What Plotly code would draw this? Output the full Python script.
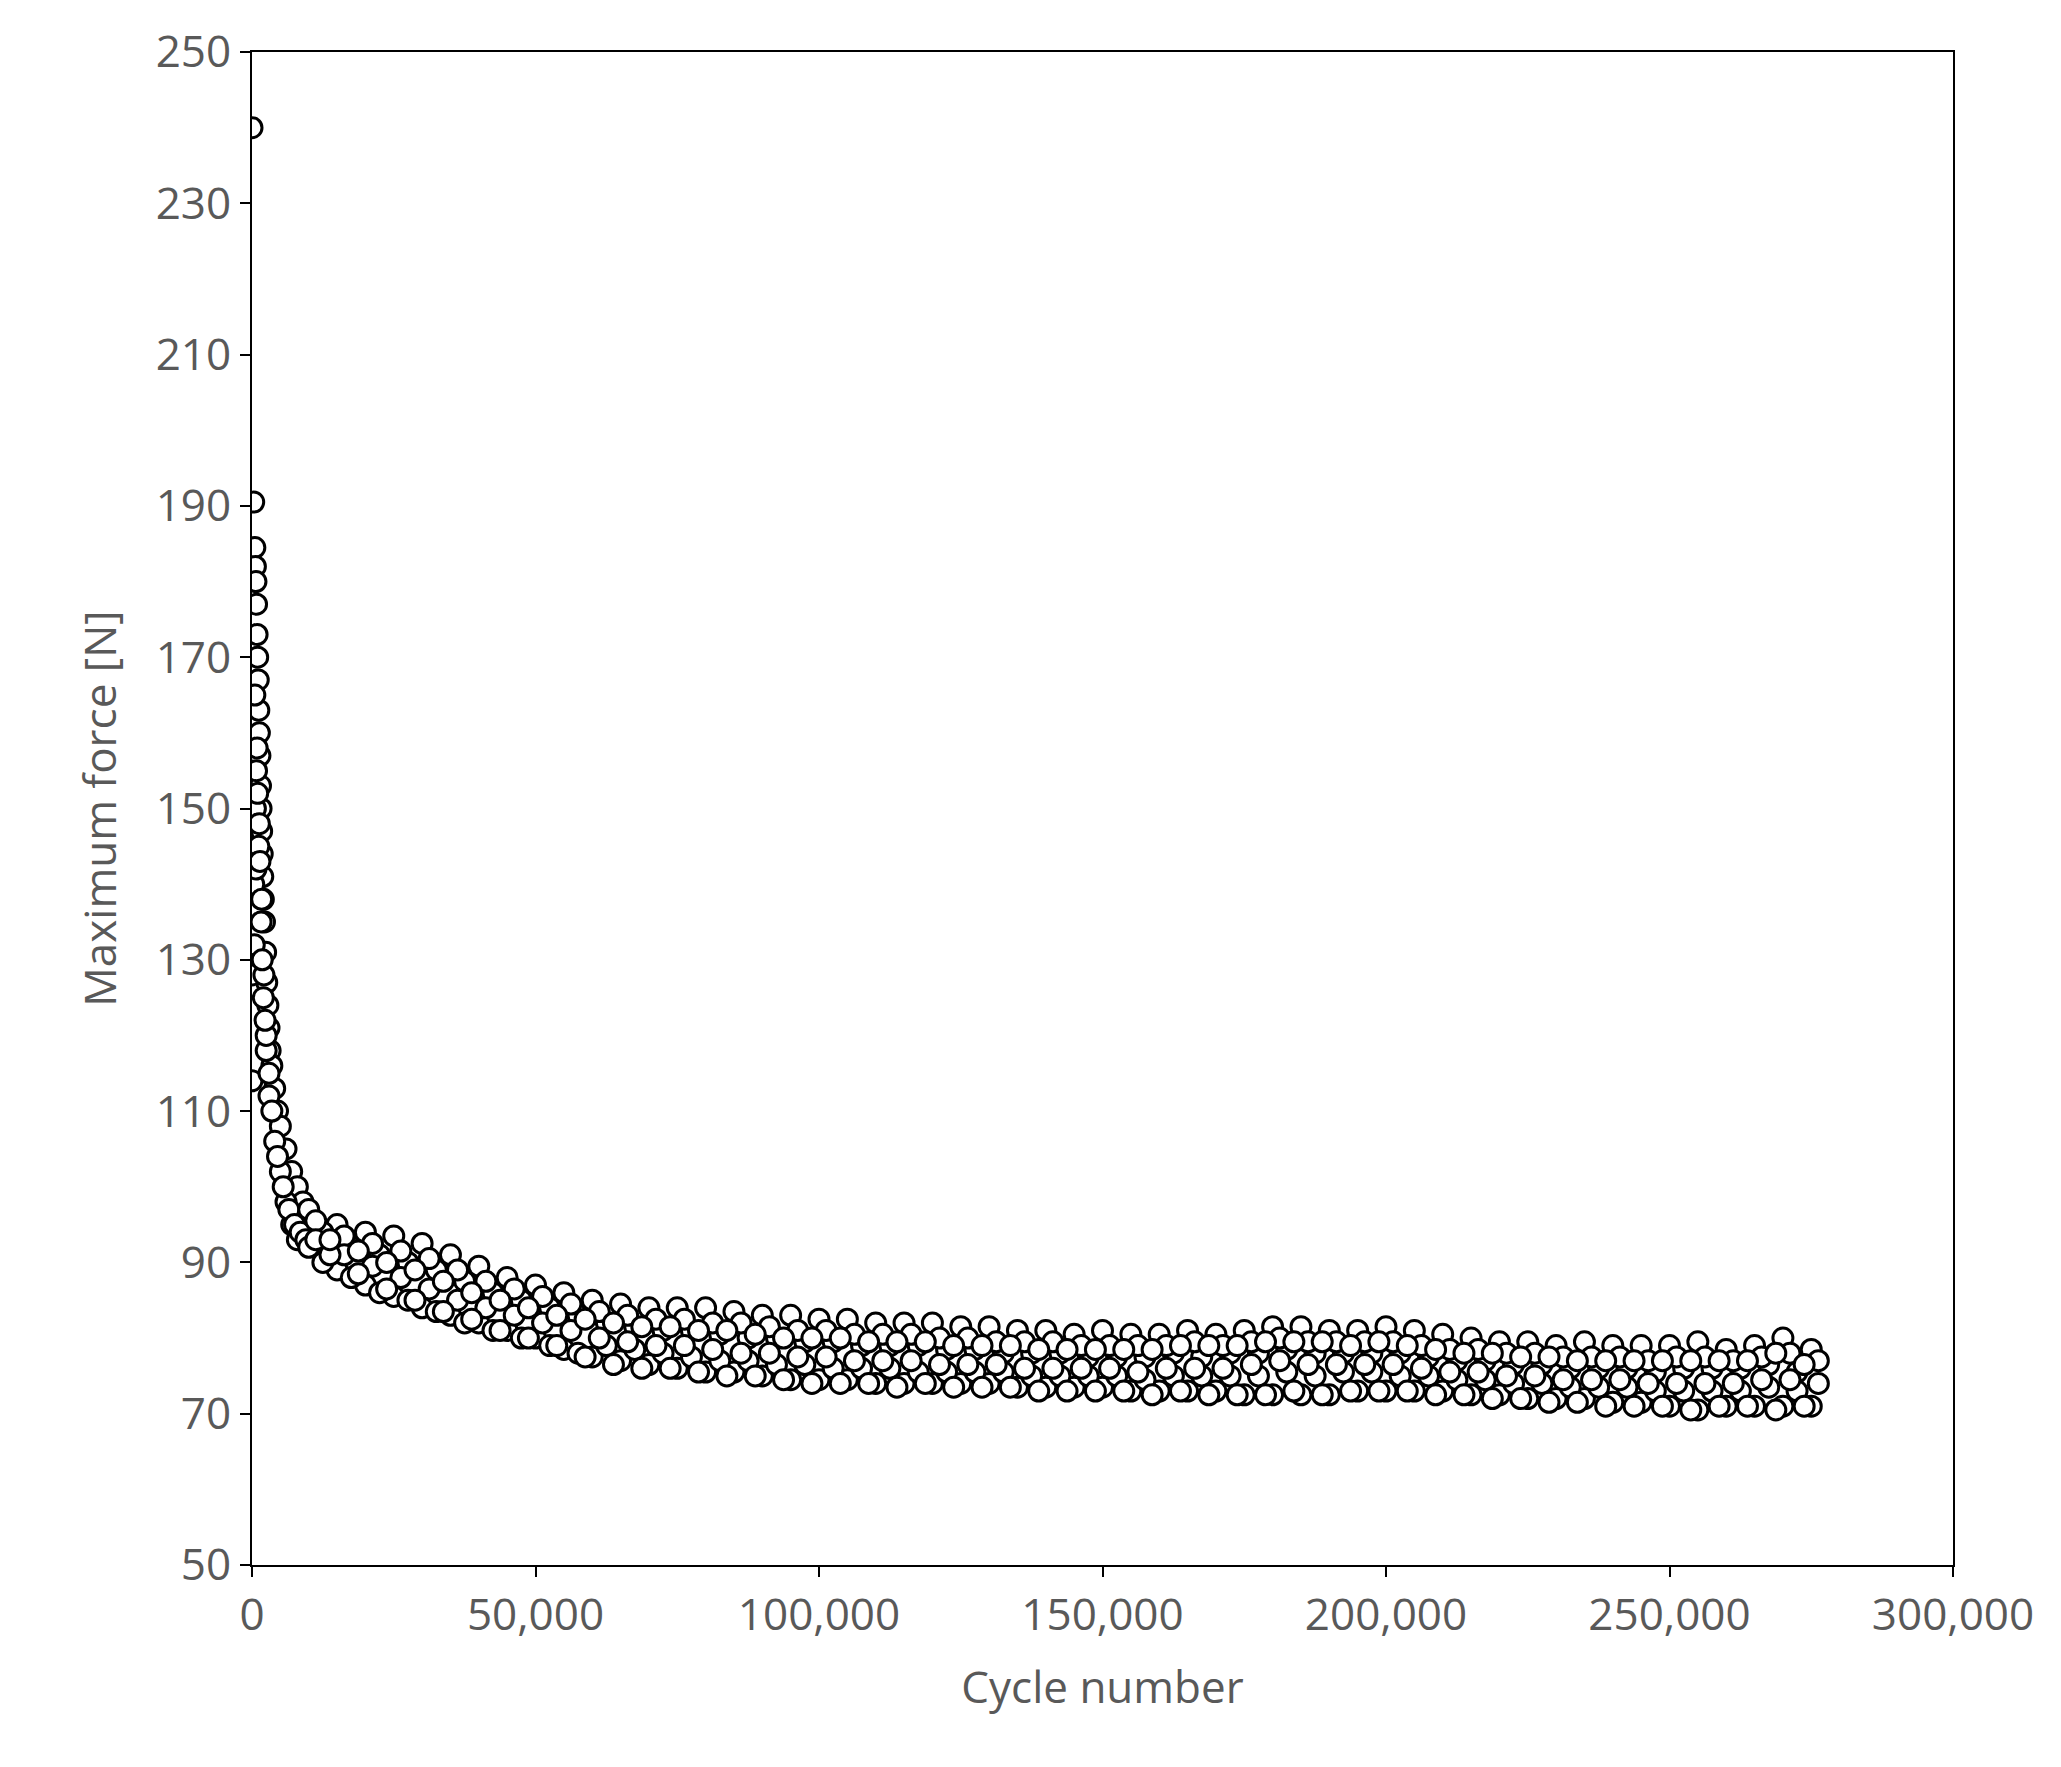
import plotly.graph_objects as go

early_x = [0, 300, 500, 600, 700, 800, 900, 1000, 1100, 1200, 1300, 1400, 1500, 1600, 1700, 1800, 1900, 2000, 2200, 2400, 2600, 2800, 3000, 3200, 3500, 4000, 0, 0, 4500, 5000, 6000, 7000, 8000, 9000,
           500, 800, 1200, 1600, 2000, 2500, 3000, 4000, 5000, 6000, 7000, 8000,
           300, 600, 900, 1300, 1700, 2100, 2500, 3000, 3500, 4500, 5500, 6500, 7500, 8500, 9500, 400, 700, 1000, 1400, 1800, 2300]
early_y = [240, 190.5, 184.5, 182, 180, 177, 173, 170, 167, 163, 160, 157, 153, 150, 147, 144, 141, 138, 135, 131, 127, 124, 121, 118, 116, 113, 128, 114, 110, 108, 105, 102, 100, 98,
           165, 155, 145, 135, 125, 118, 112, 106, 102, 98, 95, 93,
           140, 150, 158, 148, 138, 128, 120, 115, 110, 104, 100, 97, 95, 94, 93, 132, 142, 152, 143, 130, 122]

band_x = [10000 + 5000 * i for i in range(54)]
top = [97, 95, 94, 93.5, 92.5, 91, 89.5, 88, 87, 86,
       85, 84.5, 84, 84, 84, 83.5, 83, 83, 82.5, 82.5,
       82, 82, 82, 81.5, 81.5, 81, 81, 80.5, 81, 80.5,
       80.5, 81, 80.5, 81, 81.5, 81.5, 81, 81, 81.5, 81,
       80.5, 80, 79.5, 79.5, 79, 79.5, 79, 79, 79, 79.5,
       78.5, 79, 80, 78.5]
bottom = [92, 89, 87, 85.5, 84, 83, 82, 81, 80, 78.5,
          77.5, 77, 76.5, 76, 75.5, 75.5, 75, 74.5, 74.5, 74.5,
          74, 74, 74, 74, 74, 73.5, 73.5, 73.5, 73.5, 73,
          73, 73, 73, 72.5, 72.5, 72.5, 72.5, 73, 73, 73,
          73, 72.5, 72.5, 72, 72, 72, 71.5, 71.5, 71, 70.5,
          71, 71, 71, 71]
mid_x = [12500 + 5000 * i for i in range(53)]
upper_mid = [94, 92, 91, 90, 89, 87.5, 86, 85, 84, 83,
             82, 81.5, 81, 81, 80.5, 80, 80, 79.5, 79.5, 79,
             79, 79, 78.5, 78.5, 78, 78, 78, 77.5, 77.5, 77.5,
             78, 77.5, 78, 78, 78.5, 78, 78, 78, 78, 77.5,
             77, 77, 76.5, 76.5, 76, 76, 76, 75.5, 76, 76,
             76, 76.5, 75.5]
lower_mid = [90, 88, 86, 85, 83.5, 82, 81, 80, 79, 78,
             79, 78.5, 78, 77.5, 77, 77, 76.5, 76.5, 76, 76,
             76, 75.5, 75.5, 75.5, 75.5, 75, 75, 75, 75, 74.5,
             75, 75, 75, 75, 75.5, 75, 75.5, 75.5, 75, 75,
             74.5, 74.5, 74, 74, 73.5, 73.5, 73.5, 73, 73, 73,
             73, 73.5, 73]
q1_x = [11250 + 5000 * i for i in range(54)]
row_a = [95.5, 93.5, 92.5, 91.5, 90.5, 89, 87.5, 86.5, 85.5, 84.5,
         83.5, 83, 82.5, 82.5, 82, 82, 81.5, 81, 81, 80.5,
         80.5, 80.5, 80, 80, 79.5, 79.5, 79.5, 79, 79, 79,
         79, 79.5, 79, 79.5, 80, 79.5, 79.5, 79.5, 79.5, 79,
         78.5, 78.5, 78, 78, 77.5, 77.5, 77.5, 77, 77.5, 77.5,
         77, 77.5, 78, 77]
row_c = [93, 91, 89.5, 88, 86.5, 85, 84, 83, 82, 81,
         80, 79.5, 79, 79, 78.5, 78, 78, 77.5, 77.5, 77,
         77, 77, 76.5, 76.5, 76.5, 76, 76, 76, 76, 75.5,
         76, 76, 76, 76.5, 77, 76.5, 76.5, 76.5, 76.5, 76,
         75.5, 75.5, 75, 75, 74.5, 74.5, 74.5, 74, 74, 74,
         74, 74.5, 74.5, 74]
q3_x = [13750 + 5000 * i for i in range(53)]
row_b = [91, 88.5, 86.5, 85, 83.5, 82.5, 81, 80, 79, 77.5,
         76.5, 76, 76, 75.5, 75, 75, 74.5, 74, 74, 74,
         73.5, 74, 73.5, 73.5, 73.5, 73, 73, 73, 73, 72.5,
         73, 72.5, 72.5, 72.5, 73, 72.5, 73, 73, 73, 72.5,
         72.5, 72, 72, 71.5, 71.5, 71, 71, 71, 70.5, 71,
         71, 70.5, 71]
row_d = [93, 91.5, 90, 89, 87.5, 86, 85, 84, 83, 82.5,
         82, 81.5, 81.5, 81, 81, 80.5, 80, 80, 80, 79.5,
         79.5, 79.5, 79, 79, 79, 78.5, 78.5, 78.5, 78.5, 78.5,
         79, 79, 79, 79.5, 79.5, 79.5, 79, 79.5, 79, 78.5,
         78, 78, 77.5, 77.5, 77, 77, 77, 77, 77, 77,
         77, 78, 76.5]

xs = early_x + band_x + band_x + mid_x + mid_x + q1_x + q1_x + q3_x + q3_x
ys = early_y + top + bottom + upper_mid + lower_mid + row_a + row_c + row_b + row_d

fig = go.Figure(go.Scatter(x=xs, y=ys, mode="markers",
                           marker=dict(symbol="circle", size=20, color="white",
                                       line=dict(color="black", width=3))))
axfont = dict(family="Open Sans", size=44, color="#595959")
common = dict(showline=True, linecolor="black", linewidth=2, mirror=True,
              ticks="outside", ticklen=10, tickcolor="black", tickwidth=2,
              showgrid=False, zeroline=False, tickfont=axfont)
fig.update_xaxes(range=[0, 300000], tickvals=[0, 50000, 100000, 150000, 200000, 250000, 300000],
                 tickformat=",d", title=dict(text="Cycle number", font=axfont, standoff=30), **common)
fig.update_yaxes(range=[50, 250], dtick=20, tick0=50,
                 title=dict(text="Maximum force [N]", font=axfont, standoff=25), **common)
fig.update_layout(width=2061, height=1767, plot_bgcolor="white", paper_bgcolor="white",
                  margin=dict(l=244, r=116, t=33, b=210), showlegend=False)
fig.write_html("out.html")
